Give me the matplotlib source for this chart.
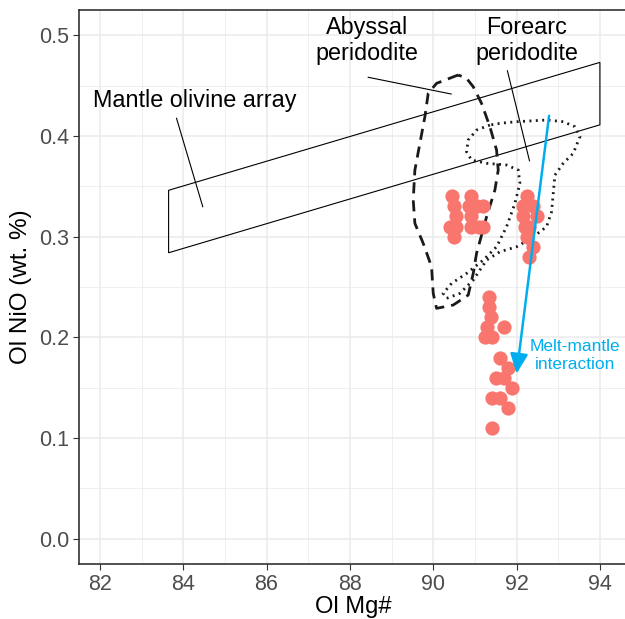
import numpy as np
import matplotlib.pyplot as plt
from matplotlib.patches import Polygon

plt.rcParams['font.family'] = ['Liberation Sans', 'DejaVu Sans']

# --- Olivine analyses (Mg#, NiO wt.%) ---
ol_mg = [90.45, 90.9, 90.5, 90.85, 91.05, 91.2, 90.55, 90.9, 90.4, 90.55, 90.9, 91.1, 91.2, 90.5,
         92.25, 92.15, 92.4, 92.15, 92.5, 92.2, 92.3, 92.25, 92.4, 92.3,
         91.35, 91.35, 91.38, 91.3, 91.7, 91.25, 91.4,
         91.6, 91.8, 91.5, 91.7, 91.9, 91.4, 91.6, 91.8, 91.4]
ol_nio = [0.34, 0.34, 0.33, 0.33, 0.33, 0.33, 0.32, 0.32, 0.31, 0.31, 0.31, 0.31, 0.31, 0.30,
          0.34, 0.33, 0.33, 0.32, 0.32, 0.31, 0.31, 0.30, 0.29, 0.28,
          0.24, 0.23, 0.22, 0.21, 0.21, 0.20, 0.20,
          0.18, 0.17, 0.16, 0.16, 0.15, 0.14, 0.14, 0.13, 0.11]

# --- Mantle olivine array (parallelogram) ---
moa_mg = [83.65, 94.0, 94.0, 83.65]
moa_nio = [0.346, 0.473, 0.411, 0.284]

# --- Abyssal peridotite field (dashed outline) ---
aby_mg = [90.60, 90.08, 89.88, 89.80, 89.68, 89.56, 89.52, 89.56, 89.76, 89.96, 90.00, 90.08,
          90.48, 90.84, 90.96, 91.04, 91.28, 91.48, 91.56, 91.52, 91.36, 91.16, 90.96, 90.80]
aby_nio = [0.4605, 0.4522, 0.4423, 0.419, 0.3926, 0.3661, 0.3363, 0.3132, 0.2933, 0.2701, 0.2437, 0.2288,
           0.2321, 0.242, 0.2635, 0.2834, 0.3197, 0.3463, 0.3661, 0.386, 0.4091, 0.4323, 0.4488, 0.4572]

# --- Forearc peridotite field (dotted outline) ---
fa_mg = [91.36, 91.04, 90.84, 90.80, 90.92, 91.28, 91.76, 92.04, 92.08, 91.96, 91.76, 91.52, 91.20,
         90.80, 90.44, 90.24, 90.32, 90.64, 90.96, 91.28, 91.60, 92.00, 92.40, 92.72, 92.84, 92.88,
         92.92, 93.12, 93.36, 93.52, 93.40, 93.12, 92.72, 92.00, 91.60]
fa_nio = [0.4108, 0.4058, 0.3959, 0.3843, 0.376, 0.3728, 0.3711, 0.3661, 0.3529, 0.333, 0.3098, 0.2899, 0.2767,
          0.2635, 0.2536, 0.2437, 0.2387, 0.2437, 0.2569, 0.2767, 0.285, 0.2899, 0.2999, 0.3098, 0.3247, 0.343,
          0.3611, 0.3728, 0.3827, 0.3992, 0.4091, 0.4141, 0.4158, 0.4141, 0.4125]

# --- Melt-mantle interaction arrow ---
arrow_start = (92.78, 0.42)
arrow_end = (92.0, 0.164)

blue = '#00AEEF'

fig = plt.figure(figsize=(6.25, 6.19), dpi=100)
ax = fig.add_axes([79 / 625, 55 / 619, 548 / 625, 554 / 619])
ax.set_xlim(81.5, 94.65)
ax.set_ylim(-0.025, 0.525)

# grid, theme_bw style
ax.set_xticks(np.arange(82, 95, 2))
ax.set_xticks(np.arange(83, 95, 2), minor=True)
ax.set_yticks(np.arange(0, 0.51, 0.1))
ax.set_yticks(np.arange(0.05, 0.51, 0.1), minor=True)
ax.grid(which='major', color='#EBEBEB', lw=1.1)
ax.grid(which='minor', color='#EBEBEB', lw=0.55)
ax.tick_params(which='minor', length=0)
ax.tick_params(which='major', length=4, width=0.8, color='#333333',
               labelsize=15.5, labelcolor='#4D4D4D', pad=3)
ax.set_yticklabels([f'{v:.1f}' for v in np.arange(0, 0.51, 0.1)])
for sp in ax.spines.values():
    sp.set_color('#333333')
    sp.set_linewidth(1.2)
ax.set_axisbelow(True)

ax.set_xlabel('Ol Mg#', fontsize=17, labelpad=1)
ax.set_ylabel('Ol NiO (wt. %)', fontsize=17.5, labelpad=5)

# fields
ax.add_patch(Polygon(np.column_stack([moa_mg, moa_nio]), closed=True, fill=False,
                     ec='black', lw=0.8))
ax.add_patch(Polygon(np.column_stack([aby_mg, aby_nio]), closed=True, fill=False,
                     ec='#1a1a1a', lw=2.0, ls=(0, (4, 2.5)), joinstyle='round'))
ax.add_patch(Polygon(np.column_stack([fa_mg, fa_nio]), closed=True, fill=False,
                     ec='#1a1a1a', lw=2.0, ls=(0, (0.7, 1.6)), capstyle='butt'))

# data points
ax.scatter(ol_mg, ol_nio, s=105, color='#F8766D', lw=0, zorder=3)

# arrow
ax.annotate('', xy=arrow_end, xytext=arrow_start,
            arrowprops=dict(arrowstyle='-|>,head_length=0.6,head_width=0.27', color=blue, lw=1.8,
                            mutation_scale=20, shrinkA=0, shrinkB=0), zorder=4)
ax.text(93.4, 0.182, 'Melt-mantle\ninteraction', color=blue, fontsize=12.5,
        ha='center', va='center', linespacing=1.2)

# labels with leader lines
ax.text(84.28, 0.4356, 'Mantle olivine array', fontsize=16.8, ha='center', va='center')
ax.plot([83.84, 84.47], [0.4175, 0.3297], color='black', lw=0.8)

ax.text(88.41, 0.4947, 'Abyssal\nperidodite', fontsize=16.8, ha='center', va='center',
        linespacing=1.15)
ax.plot([88.44, 90.43], [0.4582, 0.4416], color='black', lw=0.8)

ax.text(92.25, 0.4947, 'Forearc\nperidodite', fontsize=16.8, ha='center', va='center',
        linespacing=1.15)
ax.plot([91.78, 92.31], [0.4647, 0.3753], color='black', lw=0.8)

fig.savefig('out.png', dpi=100)
